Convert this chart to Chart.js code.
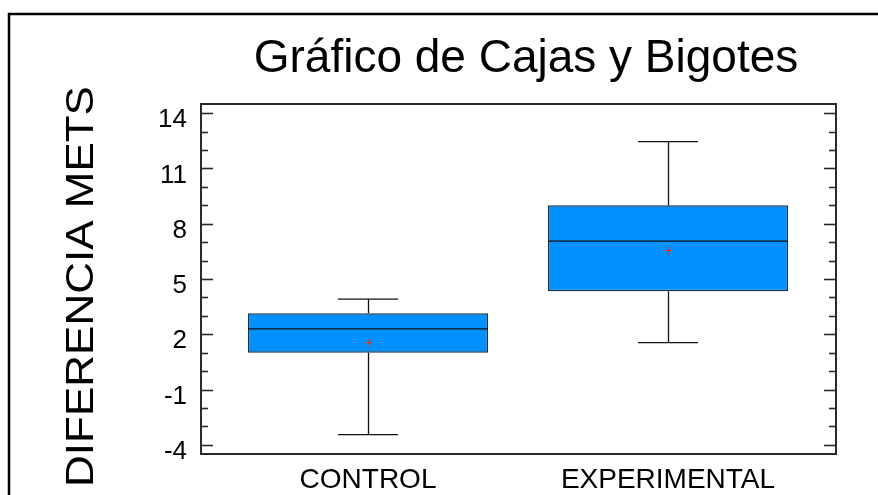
<!DOCTYPE html>
<html><head><meta charset="utf-8">
<script src="https://cdn.jsdelivr.net/npm/chart.js@4.4.0/dist/chart.umd.min.js"></script>
<style>html,body{margin:0;padding:0;background:#fff;overflow:hidden;}#wrap{width:878px;height:495px;}</style>
</head><body><div id="wrap"><canvas id="c" width="878" height="495"></canvas></div>
<script>
const categories = ['CONTROL', 'EXPERIMENTAL'];
const whiskerLow = [-3.45, 1.55];
const q1 = [1.0, 4.33];
const medians = [2.29, 7.06];
const q3 = [3.14, 9.0];
const whiskerHigh = [3.91, 12.46];
const means = [1.6, 6.57];
const yTickValues = [-4, -1, 2, 5, 8, 11, 14];
const titleText = 'Gráfico de Cajas y Bigotes';
const yTitleText = 'DIFERENCIA METS';

const FONT = "'Liberation Sans', Arial, sans-serif";

const extras = {
  id: 'boxExtras',
  afterDatasetsDraw(chart) {
    const ctx = chart.ctx, xs = chart.scales.x, ys = chart.scales.y, a = chart.chartArea;
    ctx.save();
    const line = (x1, y1, x2, y2) => { ctx.beginPath(); ctx.moveTo(x1, y1); ctx.lineTo(x2, y2); ctx.stroke(); };
    categories.forEach((c, i) => {
      const v = i + 1;
      const cx = Math.round(xs.getPixelForValue(v)) + 0.5;
      const capL = xs.getPixelForValue(v - 0.1), capR = xs.getPixelForValue(v + 0.1);
      const bl = xs.getPixelForValue(v - 0.4), br = xs.getPixelForValue(v + 0.4);
      ctx.strokeStyle = '#111'; ctx.lineWidth = 1.3;
      const yHi = ys.getPixelForValue(whiskerHigh[i]), yLo = ys.getPixelForValue(whiskerLow[i]);
      line(cx, ys.getPixelForValue(q3[i]), cx, yHi);
      line(cx, ys.getPixelForValue(q1[i]), cx, yLo);
      line(capL, yHi, capR, yHi);
      line(capL, yLo, capR, yLo);
      const ym = ys.getPixelForValue(medians[i]);
      line(bl, ym, br, ym);
      ctx.strokeStyle = '#ff2a00'; ctx.lineWidth = 1;
      const yMean = Math.round(ys.getPixelForValue(means[i])) + 0.5;
      line(cx - 3.5, yMean, cx + 3.5, yMean);
      line(cx, yMean - 3.5, cx, yMean + 3.5);
    });
    // plot frame
    ctx.strokeStyle = '#2a2a2a'; ctx.lineWidth = 2;
    ctx.strokeRect(a.left, a.top, a.right - a.left, a.bottom - a.top);
    // inward tick marks on left and right
    ctx.lineWidth = 1.6;
    for (let v = Math.ceil(ys.min); v <= Math.floor(ys.max); v++) {
      const major = yTickValues.includes(v);
      const len = major ? 12 : 7;
      const py = Math.round(ys.getPixelForValue(v)) + 0.5;
      line(a.left, py, a.left + len, py);
      line(a.right - len, py, a.right, py);
    }
    ctx.restore();
  },
  afterDraw(chart) {
    const ctx = chart.ctx;
    ctx.save();
    // outer frame
    ctx.strokeStyle = '#000'; ctx.lineWidth = 2.5;
    ctx.strokeRect(9, 14, 1000, 600);
    // title
    ctx.fillStyle = '#000';
    ctx.font = '46px ' + FONT;
    ctx.textAlign = 'center'; ctx.textBaseline = 'alphabetic';
    ctx.fillText(titleText, 526, 72);
    // y title
    ctx.translate(93, 286.5);
    ctx.rotate(-Math.PI / 2);
    ctx.scale(1, 0.89);
    ctx.font = '44px ' + FONT;
    ctx.fillText(yTitleText, 0, 0);
    ctx.restore();
  }
};

new Chart(document.getElementById('c'), {
  type: 'bar',
  data: {
    datasets: [{
      data: categories.map((c, i) => ({ x: i + 1, y: [q1[i], q3[i]] })),
      backgroundColor: '#0091ff',
      borderColor: '#14324f',
      borderWidth: 1.5,
      borderSkipped: false,
      categoryPercentage: 1,
      barPercentage: 0.8
    }]
  },
  options: {
    responsive: false,
    animation: false,
    events: [],
    layout: { padding: { top: 104, right: 42, left: 0, bottom: 0 } },
    plugins: { legend: { display: false }, tooltip: { enabled: false }, title: { display: false } },
    scales: {
      x: {
        type: 'linear', min: 0.4433, max: 2.56, offset: false,
        grid: { display: false, offset: false }, border: { display: false },
        afterBuildTicks: s => { s.ticks = categories.map((c, i) => ({ value: i + 1 })); },
        ticks: {
          callback: v => categories[Math.round(v) - 1] || '',
          font: { family: FONT, size: 28 }, color: '#000', padding: 1,
          maxRotation: 0, autoSkip: false
        },
        afterFit: s => { s.height = 41; }
      },
      y: {
        min: -4.5, max: 14.5,
        grid: { display: false }, border: { display: false },
        afterBuildTicks: s => { s.ticks = yTickValues.map(v => ({ value: v })); },
        ticks: { font: { family: FONT, size: 26 }, color: '#000', padding: 6, labelOffset: 7 },
        afterFit: s => { s.width = 201; }
      }
    }
  },
  plugins: [extras]
});
</script>
</body></html>
